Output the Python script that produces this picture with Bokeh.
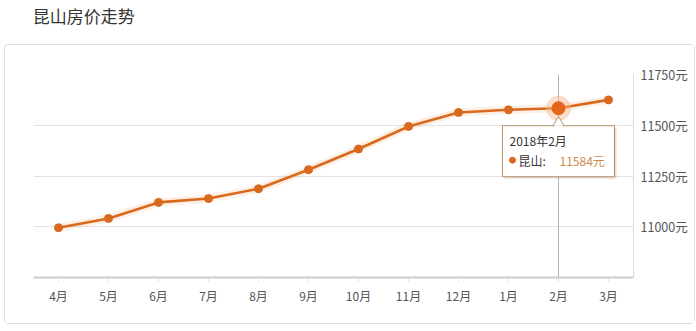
from bokeh.plotting import figure
from bokeh.layouts import column
from bokeh.models import FactorRange, Range1d, FixedTicker, PrintfTickFormatter, Label
from bokeh.embed import file_html
from bokeh.resources import INLINE

# ---- data ----
months = ["4月", "5月", "6月", "7月", "8月", "9月", "10月", "11月", "12月", "1月", "2月", "3月"]
prices = [10995, 11041, 11120, 11139, 11187, 11281, 11383, 11494, 11563, 11576, 11584, 11625]
y_ticks = [11000, 11250, 11500, 11750]
y_start, y_end = 10750, 11750
title_text = "昆山房价走势"
series_name = "昆山"
hover_month = "2月"
hover_label = "2018年2月"

# ---- style ----
FONT = "Noto Sans CJK SC"
C = "#d8691d"
W, H = 696, 331
TH = 44                      # title strip height
PW, PH = 691, 280            # card figure size
BL, BR, BT, BB = 28, 63, 29, 48
band = (PW - BL - BR) / len(months)
ppu = (PH - BT - BB) / (y_end - y_start)

# ---- title strip ----
t = figure(width=W, height=TH, x_range=Range1d(0, W), y_range=Range1d(TH, 0),
           output_backend="svg", toolbar_location=None, x_axis_location=None,
           y_axis_location=None, min_border=0)
t.title.text = ""
t.outline_line_color = None
t.grid.grid_line_color = None
t.add_layout(Label(x=5, y=15, text=title_text, text_font=FONT, text_font_size="17px",
                   text_color="#333333", text_baseline="middle"))

# ---- card figure ----
p = figure(width=PW, height=PH, x_range=FactorRange(factors=months, range_padding=0),
           y_range=Range1d(y_start, y_end), output_backend="svg", toolbar_location=None,
           y_axis_location="right", min_border_left=BL, min_border_right=BR,
           min_border_top=BT, min_border_bottom=BB,
           margin=(0, 0, 0, 4),
           styles={"border": "1px solid #dddddd", "border-radius": "4px"})
p.title.text = ""
p.outline_line_color = None

xa = p.xaxis[0]
xa.axis_line_color = "#cccccc"
xa.axis_line_width = 2
xa.major_tick_line_color = "#dddddd"
xa.major_tick_out = 4
xa.major_tick_in = 0
xa.minor_tick_line_color = None
xa.major_label_text_font = FONT
xa.major_label_text_font_size = "12px"
xa.major_label_text_color = "#555555"
xa.major_label_standoff = 5

ya = p.yaxis[0]
ya.ticker = FixedTicker(ticks=y_ticks)
ya.formatter = PrintfTickFormatter(format="%d元")
ya.axis_line_color = "#dddddd"
ya.major_tick_line_color = None
ya.minor_tick_line_color = None
ya.major_tick_out = 0
ya.major_label_text_font = FONT
ya.major_label_text_font_size = "12.5px"
ya.major_label_text_color = "#555555"
ya.major_label_standoff = 7

p.xgrid.grid_line_color = None
p.ygrid.ticker = FixedTicker(ticks=y_ticks)
p.ygrid.grid_line_color = "#e2e2e2"

idx = months.index(hover_month)
hv = prices[idx]
xc = idx + 0.5

# crosshair
p.segment(x0=[hover_month], y0=[y_start], x1=[hover_month], y1=[y_end], line_color="#b5b5b5", line_width=1)

# series
p.line(months, prices, line_color="#f2a868", line_width=8, line_alpha=0.18)
p.line(months, prices, line_color=C, line_width=2.6)
p.scatter(months, prices, size=8, color=C)

# highlighted point
p.scatter([hover_month], [hv], size=24, color="#f6b98a", alpha=0.45)
p.scatter([hover_month], [hv], size=13, color="#e5651b")

# tooltip
cy = hv - 43 / ppu
p.rect(x=[xc + 2 / band], y=[cy - 2 / ppu], width=112, height=51, width_units="screen",
       height_units="screen", fill_color="#000000", fill_alpha=0.12, line_color=None)
p.rect(x=[hover_month], y=[cy], width=112, height=51, width_units="screen", height_units="screen",
       fill_color="white", line_color="#b8906c", line_width=1)
p.scatter(x=[hover_month], y=[hv - 14.5 / ppu], marker="triangle", size=11,
          fill_color="white", line_color="#b8906c", line_width=1)
p.rect(x=[hover_month], y=[hv - 18.5 / ppu], width=9, height=3, width_units="screen",
       height_units="screen", fill_color="white", line_color=None)

p.add_layout(Label(x=xc, y=hv, x_offset=-49, y_offset=-32, text=hover_label, text_font=FONT,
                   text_font_size="12px", text_color="#333333", text_baseline="middle"))
p.scatter(x=[xc - 46 / band], y=[hv - 52 / ppu], size=6, color=C)
p.add_layout(Label(x=xc, y=hv, x_offset=-40, y_offset=-52, text=series_name + ":", text_font=FONT,
                   text_font_size="12px", text_color="#333333", text_baseline="middle"))
p.add_layout(Label(x=xc, y=hv, x_offset=1, y_offset=-52, text=f"{hv}元", text_font=FONT,
                   text_font_size="12px", text_color="#cc8a4e", text_baseline="middle"))

layout = column(t, p, spacing=0)
open("out.html", "w").write(file_html(layout, INLINE))
